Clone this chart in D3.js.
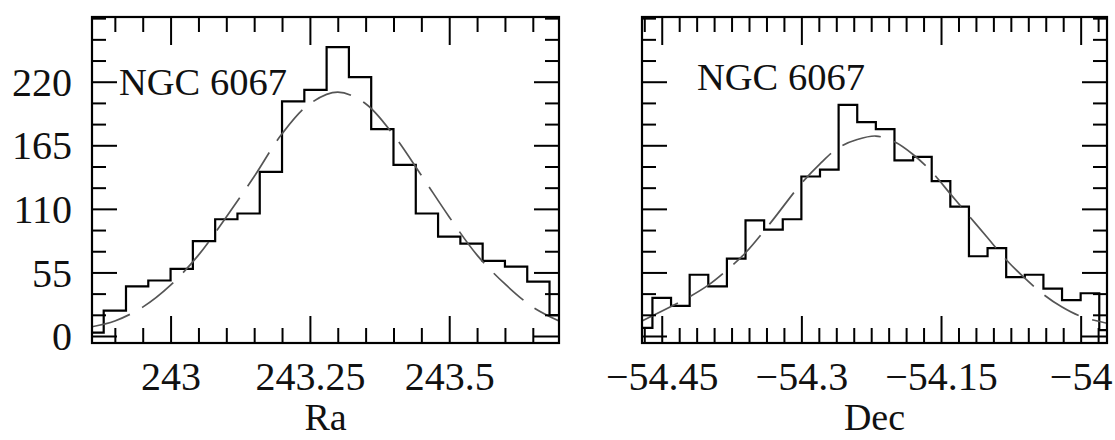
<!DOCTYPE html>
<html><head><meta charset="utf-8">
<script src="https://cdn.jsdelivr.net/npm/d3@7"></script>
<style>
body{margin:0;background:#fff}
svg{display:block}
text{font-family:"Liberation Serif","Times New Roman",serif;fill:#111}
</style>
</head><body>
<svg id="c" width="1115" height="440"></svg>
<script>
// ---------- data ----------
const yTickValues = [0, 55, 110, 165, 220];
const yTickLabels = ["0", "55", "110", "165", "220"];
const raTickValues = [243, 243.25, 243.5];
const raTickLabels = ["243", "243.25", "243.5"];
const decTickValues = [-54.45, -54.3, -54.15, -54];
const decTickLabels = ["\u221254.45", "\u221254.3", "\u221254.15", "\u221254"];
const titleLeft = "NGC 6067";
const titleRight = "NGC 6067";
const xLabelLeft = "Ra";
const xLabelRight = "Dec";

// Ra histogram: bins of 0.04 starting at 242.84
const raBinStart = 242.84, raBinWidth = 0.04;
const raCounts = [3, 22, 43, 48, 58, 82, 101, 106, 142, 203, 213, 250, 224, 179, 148, 106, 86, 80, 65, 60, 47, 18];
// Dec histogram: bins of 0.02 starting at -54.48
const decBinStart = -54.48, decBinWidth = 0.02;
const decCounts = [7, 33, 26, 53, 43, 67, 100, 92, 101, 138, 144, 200, 185, 179, 152, 155, 134, 112, 69, 76, 51, 53, 41, 31, 37, 5];

// dashed fit curves
const raCurveX = [242.859, 242.90, 242.95, 243.00, 243.05, 243.10, 243.15, 243.20, 243.25, 243.30, 243.35, 243.40, 243.45, 243.50, 243.55, 243.60, 243.65, 243.697];
const raCurveY = [8, 13, 25, 44, 70, 103, 138, 175, 201, 211, 201, 174, 139, 103, 70, 45, 25, 13];
const decCurveX = [-54.4712, -54.44, -54.42, -54.40, -54.38, -54.36, -54.334, -54.30, -54.28, -54.26, -54.24, -54.22, -54.20, -54.18, -54.16, -54.14, -54.12, -54.10, -54.08, -54.06, -54.04, -54.02, -54.00, -53.9717];
const decCurveY = [13, 25.5, 34, 44, 57, 72, 97, 132, 149, 163, 170, 173, 168, 157, 142, 123, 104, 85, 66, 50, 36, 25, 17, 11];

// ---------- layout ----------
const svg = d3.select("#c");
const yTop = 17, yBottom = 343;
const y = d3.scaleLinear().domain([-6.06, 276]).range([yBottom, yTop]);

const panels = [
  {id:"L", x0:92, x1:559, domain:[242.859, 243.697], ticks:raTickValues, labels:raTickLabels,
   minorStep:0.05, counts:raCounts, bStart:raBinStart, bW:raBinWidth,
   cx:raCurveX, cy:raCurveY, title:titleLeft, tx:119, ty:95, xlabel:xLabelLeft, yLabels:true},
  {id:"R", x0:642, x1:1107, domain:[-54.4712, -53.9717], ticks:decTickValues, labels:decTickLabels,
   minorStep:0.15/8, counts:decCounts, bStart:decBinStart, bW:decBinWidth,
   cx:decCurveX, cy:decCurveY, title:titleRight, tx:697, ty:90, xlabel:xLabelRight, yLabels:false}
];

const yMinor = d3.range(-55/3, 276, 55/3).filter(v => yTickValues.every(t => Math.abs(t - v) > 1e-6));

panels.forEach(p => {
  const x = d3.scaleLinear().domain(p.domain).range([p.x0, p.x1]);
  const g = svg.append("g");
  const clipId = "clip" + p.id;
  svg.append("clipPath").attr("id", clipId).append("rect")
    .attr("x", p.x0).attr("y", yTop).attr("width", p.x1 - p.x0).attr("height", yBottom - yTop);

  // histogram step outline
  const pts = p.counts.map((c, i) => [p.bStart + i * p.bW, c]);
  pts.push([p.bStart + p.counts.length * p.bW, p.counts[p.counts.length - 1]]);
  const stepLine = d3.line().x(d => x(d[0])).y(d => y(d[1])).curve(d3.curveStepAfter);
  g.append("path").attr("clip-path", `url(#${clipId})`)
    .attr("d", stepLine(pts)).attr("fill", "none").attr("stroke", "#000").attr("stroke-width", 2.2);

  // dashed fit curve
  const cPts = p.cx.map((v, i) => [v, p.cy[i]]);
  const cLine = d3.line().x(d => x(d[0])).y(d => y(d[1])).curve(d3.curveCatmullRom.alpha(0.5));
  g.append("path").attr("clip-path", `url(#${clipId})`)
    .attr("d", cLine(cPts)).attr("fill", "none").attr("stroke", "#555")
    .attr("stroke-width", 1.7).attr("stroke-dasharray", "40,14");

  // minor x ticks
  const lo = p.domain[0], hi = p.domain[1];
  const base = p.ticks[0];
  const xMinor = [];
  for (let k = -40; k <= 40; k++) {
    const v = base + k * p.minorStep;
    if (v > lo && v < hi && p.ticks.every(t => Math.abs(t - v) > 1e-6)) xMinor.push(v);
  }

  const style = sel => { sel.select(".domain").remove(); sel.selectAll("line").attr("stroke", "#000").attr("stroke-width", 2); };
  const yMinorIn = yMinor.filter(v => y(v) > yTop + 1 && y(v) < yBottom - 1);

  // bottom axis
  g.append("g").attr("transform", `translate(0,${yBottom})`)
    .call(d3.axisBottom(x).tickValues(p.ticks).tickSize(-27).tickFormat((d, i) => p.labels[i]))
    .call(style)
    .call(s => s.selectAll("text").attr("y", 47).attr("dy", null)
      .attr("font-size", 40).attr("font-family", "Liberation Serif, serif").attr("fill", "#111"));
  g.append("g").attr("transform", `translate(0,${yBottom})`)
    .call(d3.axisBottom(x).tickValues(xMinor).tickSize(-15).tickFormat(""))
    .call(style);
  // top axis
  g.append("g").attr("transform", `translate(0,${yTop})`)
    .call(d3.axisTop(x).tickValues(p.ticks).tickSize(-28).tickFormat(""))
    .call(style);
  g.append("g").attr("transform", `translate(0,${yTop})`)
    .call(d3.axisTop(x).tickValues(xMinor).tickSize(-15).tickFormat(""))
    .call(style);
  // left axis
  g.append("g").attr("transform", `translate(${p.x0},0)`)
    .call(d3.axisLeft(y).tickValues(yTickValues).tickSize(-25)
      .tickFormat((d, i) => p.yLabels ? yTickLabels[i] : ""))
    .call(style)
    .call(s => s.selectAll("text").attr("x", -20).attr("dy", "0.34em")
      .attr("font-size", 40).attr("font-family", "Liberation Serif, serif").attr("fill", "#111"));
  g.append("g").attr("transform", `translate(${p.x0},0)`)
    .call(d3.axisLeft(y).tickValues(yMinorIn).tickSize(-14).tickFormat(""))
    .call(style);
  // right axis
  g.append("g").attr("transform", `translate(${p.x1},0)`)
    .call(d3.axisRight(y).tickValues(yTickValues).tickSize(-25).tickFormat(""))
    .call(style);
  g.append("g").attr("transform", `translate(${p.x1},0)`)
    .call(d3.axisRight(y).tickValues(yMinorIn).tickSize(-14).tickFormat(""))
    .call(style);

  // frame
  g.append("rect").attr("x", p.x0).attr("y", yTop).attr("width", p.x1 - p.x0).attr("height", yBottom - yTop)
    .attr("fill", "none").attr("stroke", "#000").attr("stroke-width", 2.2);

  // title
  g.append("text").attr("x", p.tx).attr("y", p.ty).attr("font-size", 38.5).text(p.title);
  // x label
  g.append("text").attr("x", (p.x0 + p.x1) / 2).attr("y", 430).attr("text-anchor", "middle")
    .attr("font-size", 38).text(p.xlabel);
});
</script>
</body></html>
